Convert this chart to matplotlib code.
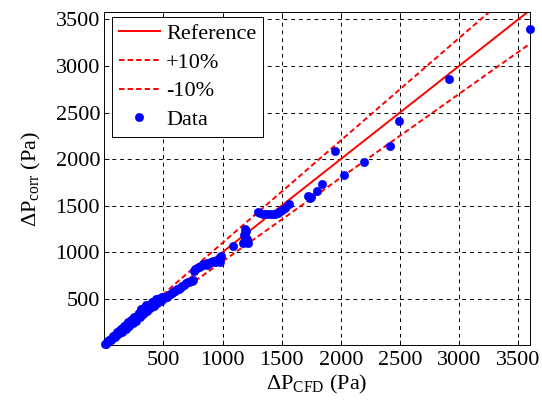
import matplotlib
matplotlib.use("Agg")
import matplotlib.pyplot as plt

plt.rcParams['font.family'] = ['Liberation Serif', 'DejaVu Serif']
plt.rcParams['mathtext.fontset'] = 'custom'
plt.rcParams['mathtext.rm'] = 'Liberation Serif'
plt.rcParams['mathtext.it'] = 'Liberation Serif:italic'

# CFD pressure drop vs correlation (Pa)
dp_cfd = [8, 15, 25, 35, 45, 55, 65, 75, 85, 95, 105, 115, 125, 135, 145, 155, 165, 175,
          185, 195, 205, 215, 225, 235, 245, 255, 265, 275, 285, 295, 305, 315, 325, 335,
          345, 355, 365, 375, 385, 395, 405, 415, 425, 435, 445, 455, 465, 475, 485, 495,
          60, 120, 180, 240, 300, 360, 420, 480,
          90, 150, 210, 270, 330, 390, 450, 250, 310, 350, 400, 440,
          40, 110, 170, 230, 290, 200, 140, 70,
          505, 515, 529, 545, 560, 575, 590, 599, 615, 630, 645, 660, 675, 690, 705, 720, 740, 750,
          760, 768, 785, 800, 820, 838, 855, 870, 890, 905, 923, 940, 960, 980, 980, 990, 950, 870,
          1092, 1177, 1191, 1206, 1219, 1191, 1191, 1200, 1185,
          1300, 1318, 1340, 1360, 1380, 1403, 1425, 1445, 1470, 1490, 1507, 1530, 1558,
          1727, 1741, 1750, 1800, 1840, 1953, 2031, 2200, 2420, 2492, 2917, 3600]
dp_corr = [10, 18, 30, 42, 52, 65, 75, 88, 98, 110, 122, 135, 145, 160, 170, 182, 192, 205,
           215, 228, 238, 250, 260, 272, 282, 295, 305, 318, 330, 345, 360, 380, 395, 405,
           410, 415, 420, 428, 436, 445, 452, 460, 468, 476, 484, 492, 500, 508, 515, 520,
           62, 118, 178, 240, 305, 370, 425, 480,
           85, 140, 205, 265, 340, 400, 455, 300, 395, 430, 460, 500,
           55, 140, 205, 270, 345, 245, 180, 95,
           510, 515, 516, 535, 550, 565, 580, 588, 600, 610, 625, 640, 650, 665, 675, 685, 694, 705,
           800, 820, 835, 845, 855, 873, 870, 880, 885, 890, 908, 900, 905, 890, 944, 960, 920, 860,
           1069, 1104, 1130, 1141, 1104, 1211, 1248, 1230, 1180,
           1430, 1426, 1412, 1408, 1405, 1408, 1410, 1410, 1425, 1440, 1451, 1480, 1516,
           1604, 1580, 1595, 1655, 1733, 2083, 1832, 1965, 2140, 2408, 2857, 3400]

ref_x = [0, 3600]

fig = plt.figure(figsize=(5.42, 4.03), dpi=100)
ax = fig.add_axes([0.1923, 0.1432, 0.7856, 0.8270])

ax.plot(ref_x, ref_x, 'r-', lw=1.4, label='Reference')
ax.plot(ref_x, [v * 1.1 for v in ref_x], 'r--', lw=1.4, dashes=(2.8, 1.6), label='+10%')
ax.plot(ref_x, [v * 0.9 for v in ref_x], 'r--', lw=1.4, dashes=(2.8, 1.6), label='-10%')
ax.plot(dp_cfd, dp_corr, 'o', color='b', ms=6, mew=0.4, ls='none', label='Data',
        clip_on=False, zorder=3)

ax.set_xlim(0, 3600)
ax.set_ylim(0, 3580)
ticks = [500, 1000, 1500, 2000, 2500, 3000, 3500]
ax.set_xticks(ticks)
ax.set_yticks(ticks)
ax.tick_params(direction='in', top=True, right=True, length=3.6, width=0.6, labelsize=16)
ax.tick_params(axis='x', pad=4)
ax.tick_params(axis='y', pad=3)
ax.grid(True, color='k', ls=(0, (4, 4)), lw=0.7)
for s in ax.spines.values():
    s.set_linewidth(0.7)

ax.set_xlabel(r'$\Delta$P$_{\rm CFD}$ (Pa)', fontsize=16, labelpad=2)
ax.set_ylabel(r'$\Delta$P$_{\rm corr}$ (Pa)', fontsize=16, labelpad=9)

leg = ax.legend(loc='upper left', bbox_to_anchor=(0.018, 0.985), fontsize=16,
                handlelength=1.85, handletextpad=0.3, labelspacing=0.36, numpoints=1,
                borderpad=0.3, fancybox=False, framealpha=1, edgecolor='k', borderaxespad=0)
leg.get_frame().set_linewidth(0.7)

fig.savefig('out.png', dpi=100)
